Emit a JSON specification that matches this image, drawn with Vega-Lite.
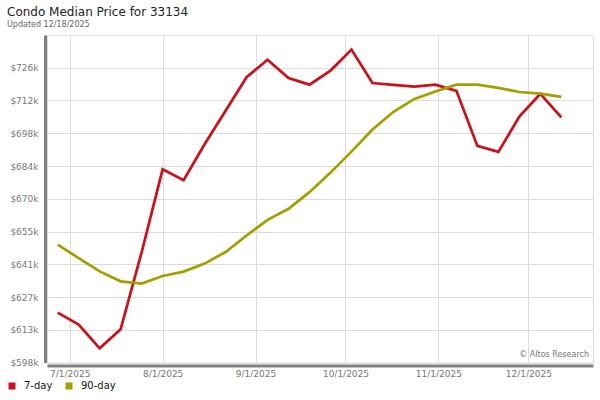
{
  "$schema": "https://vega.github.io/schema/vega-lite/v6.json",
  "autosize": {"type": "none"},
  "width": 546,
  "height": 327.5,
  "padding": {"left": 47, "top": 35, "right": 7, "bottom": 37.5},
  "background": "white",
  "config": {
    "font": "DejaVu Sans",
    "view": {"stroke": "#dcdcdc", "strokeWidth": 1}
  },
  "title": {
    "text": "Condo Median Price for 33134",
    "subtitle": "Updated 12/18/2025",
    "anchor": "start",
    "frame": "group",
    "dx": -40,
    "offset": 5,
    "fontSize": 12,
    "fontWeight": "normal",
    "color": "#222222",
    "subtitleFontSize": 8,
    "subtitleColor": "#666666",
    "subtitlePadding": 2
  },
  "layer": [
    {
      "data": {
        "values": [
          {"date": "2025-06-27T00:00:00", "series": "7-day", "price": 620100},
          {"date": "2025-07-04T00:00:00", "series": "7-day", "price": 614900},
          {"date": "2025-07-11T00:00:00", "series": "7-day", "price": 604600},
          {"date": "2025-07-18T00:00:00", "series": "7-day", "price": 612900},
          {"date": "2025-07-25T00:00:00", "series": "7-day", "price": 646300},
          {"date": "2025-08-01T00:00:00", "series": "7-day", "price": 682300},
          {"date": "2025-08-08T00:00:00", "series": "7-day", "price": 677600},
          {"date": "2025-08-15T00:00:00", "series": "7-day", "price": 693200},
          {"date": "2025-08-22T00:00:00", "series": "7-day", "price": 707800},
          {"date": "2025-08-29T00:00:00", "series": "7-day", "price": 722300},
          {"date": "2025-09-05T00:00:00", "series": "7-day", "price": 729900},
          {"date": "2025-09-12T00:00:00", "series": "7-day", "price": 722000},
          {"date": "2025-09-19T00:00:00", "series": "7-day", "price": 719100},
          {"date": "2025-09-26T00:00:00", "series": "7-day", "price": 725200},
          {"date": "2025-10-03T00:00:00", "series": "7-day", "price": 734300},
          {"date": "2025-10-10T00:00:00", "series": "7-day", "price": 719800},
          {"date": "2025-10-17T00:00:00", "series": "7-day", "price": 719000},
          {"date": "2025-10-24T00:00:00", "series": "7-day", "price": 718200},
          {"date": "2025-10-31T00:00:00", "series": "7-day", "price": 719100},
          {"date": "2025-11-07T00:00:00", "series": "7-day", "price": 716400},
          {"date": "2025-11-14T00:00:00", "series": "7-day", "price": 692500},
          {"date": "2025-11-21T00:00:00", "series": "7-day", "price": 689900},
          {"date": "2025-11-28T00:00:00", "series": "7-day", "price": 705200},
          {"date": "2025-12-05T00:00:00", "series": "7-day", "price": 715100},
          {"date": "2025-12-12T00:00:00", "series": "7-day", "price": 704900},
          {"date": "2025-06-27T00:00:00", "series": "90-day", "price": 649600},
          {"date": "2025-07-04T00:00:00", "series": "90-day", "price": 643800},
          {"date": "2025-07-11T00:00:00", "series": "90-day", "price": 638000},
          {"date": "2025-07-18T00:00:00", "series": "90-day", "price": 633700},
          {"date": "2025-07-25T00:00:00", "series": "90-day", "price": 632700},
          {"date": "2025-08-01T00:00:00", "series": "90-day", "price": 636000},
          {"date": "2025-08-08T00:00:00", "series": "90-day", "price": 637900},
          {"date": "2025-08-15T00:00:00", "series": "90-day", "price": 641400},
          {"date": "2025-08-22T00:00:00", "series": "90-day", "price": 646400},
          {"date": "2025-08-29T00:00:00", "series": "90-day", "price": 653600},
          {"date": "2025-09-05T00:00:00", "series": "90-day", "price": 660400},
          {"date": "2025-09-12T00:00:00", "series": "90-day", "price": 665200},
          {"date": "2025-09-19T00:00:00", "series": "90-day", "price": 672400},
          {"date": "2025-09-26T00:00:00", "series": "90-day", "price": 680900},
          {"date": "2025-10-03T00:00:00", "series": "90-day", "price": 690000},
          {"date": "2025-10-10T00:00:00", "series": "90-day", "price": 699600},
          {"date": "2025-10-17T00:00:00", "series": "90-day", "price": 707300},
          {"date": "2025-10-24T00:00:00", "series": "90-day", "price": 712900},
          {"date": "2025-10-31T00:00:00", "series": "90-day", "price": 716100},
          {"date": "2025-11-07T00:00:00", "series": "90-day", "price": 719100},
          {"date": "2025-11-14T00:00:00", "series": "90-day", "price": 719100},
          {"date": "2025-11-21T00:00:00", "series": "90-day", "price": 717700},
          {"date": "2025-11-28T00:00:00", "series": "90-day", "price": 715900},
          {"date": "2025-12-05T00:00:00", "series": "90-day", "price": 715200},
          {"date": "2025-12-12T00:00:00", "series": "90-day", "price": 713800}
        ]
      },
      "mark": {"type": "line", "strokeWidth": 2.75, "strokeJoin": "miter", "strokeCap": "butt"},
      "encoding": {
        "x": {
          "field": "date",
          "type": "temporal",
          "scale": {
            "domain": [
              {"year": 2025, "month": 6, "date": 23, "hours": 10, "minutes": 20},
              {"year": 2025, "month": 12, "date": 22, "hours": 13, "minutes": 40}
            ]
          },
          "axis": {
            "title": null,
            "values": [
              {"year": 2025, "month": 7, "date": 1},
              {"year": 2025, "month": 8, "date": 1},
              {"year": 2025, "month": 9, "date": 1},
              {"year": 2025, "month": 10, "date": 1},
              {"year": 2025, "month": 11, "date": 1},
              {"year": 2025, "month": 12, "date": 1}
            ],
            "format": "%-m/%-d/%Y",
            "labelFontSize": 9,
            "labelColor": "#777777",
            "labelPadding": 4,
            "ticks": false,
            "tickSize": 0,
            "domainColor": "#808080",
            "domainWidth": 3,
            "offset": 3,
            "grid": true,
            "gridColor": "#dcdcdc",
            "gridWidth": 1
          }
        },
        "y": {
          "field": "price",
          "type": "quantitative",
          "scale": {"domain": [598450, 740650], "nice": false, "zero": false},
          "axis": {
            "title": null,
            "values": [598450, 612670, 626890, 641110, 655330, 669550, 683770, 697990, 712210, 726430],
            "format": "$.3s",
            "labelFontSize": 9,
            "labelColor": "#777777",
            "labelPadding": 7,
            "ticks": false,
            "tickSize": 0,
            "domainColor": "#808080",
            "domainWidth": 3,
            "offset": 2,
            "grid": true,
            "gridColor": "#dcdcdc",
            "gridWidth": 1
          }
        },
        "color": {
          "field": "series",
          "type": "nominal",
          "scale": {"domain": ["7-day", "90-day"], "range": ["#c8121c", "#a39f00"]},
          "legend": {
            "title": null,
            "orient": "none",
            "direction": "horizontal",
            "legendX": -40,
            "legendY": 346,
            "symbolType": "square",
            "symbolSize": 49,
            "symbolStrokeWidth": 0,
            "labelFontSize": 10,
            "labelColor": "#111111",
            "labelOffset": 7,
            "columnPadding": 11,
            "encode": {
              "symbols": {"update": {"fill": {"scale": "color", "field": "value"}, "strokeWidth": {"value": 0}}}
            }
          }
        }
      }
    },
    {
      "data": {"values": [{"note": "© Altos Research"}]},
      "mark": {"type": "text", "align": "right", "baseline": "bottom", "fontSize": 8, "color": "#777777", "dx": -4, "dy": -4},
      "encoding": {
        "text": {"field": "note"},
        "x": {"value": "width"},
        "y": {"value": "height"}
      }
    }
  ]
}
